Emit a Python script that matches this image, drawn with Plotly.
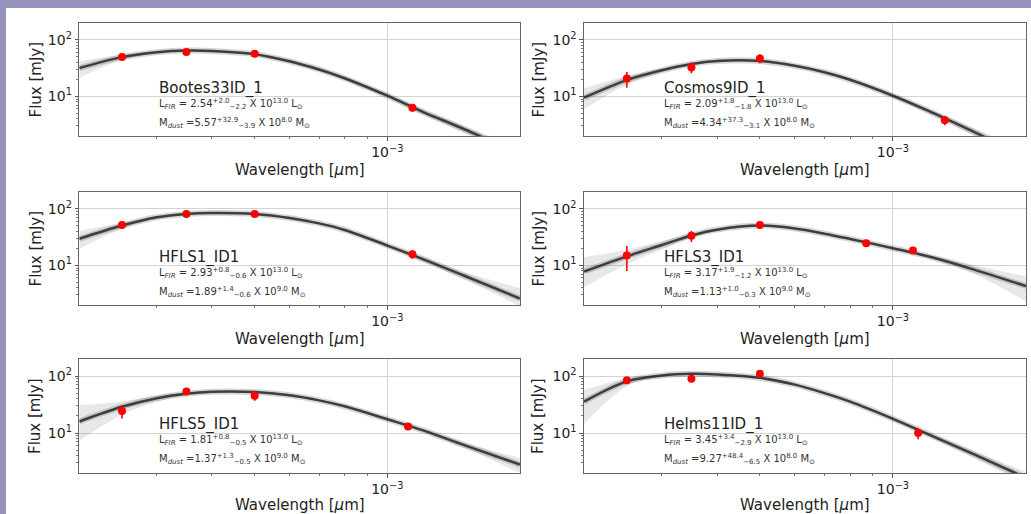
import math
import plotly.graph_objects as go

W, H = 1031, 514

# ---------------- data ----------------
lam_grid = [2.0e-4, 2.5e-4, 3.0e-4, 3.5e-4, 4.0e-4, 5.0e-4, 6.0e-4, 7.0e-4,
            8.0e-4, 1.0e-3, 1.2e-3, 1.5e-3, 2.0e-3]

names = ["Bootes33ID_1", "Cosmos9ID_1", "HFLS1_ID1", "HFLS3_ID1", "HFLS5_ID1", "Helms11ID_1"]

curve_center = [
    [31.8, 49.7, 60.8, 65.0, 64.0, 56.0, 42.0, 30.0, 21.0, 10.3, 5.4, 2.6, 0.95],
    [9.5, 19.5, 29.0, 37.5, 42.5, 42.5, 34.8, 26.8, 19.7, 10.3, 5.6, 2.5, 0.85],
    [29.6, 50.8, 71.3, 81.6, 85.0, 81.6, 69.4, 55.5, 42.5, 22.5, 13.1, 6.5, 2.6],
    [7.8, 14.5, 23.0, 34.0, 43.0, 50.8, 45.0, 36.5, 29.5, 20.2, 14.5, 8.8, 4.3],
    [16.0, 29.0, 41.0, 49.0, 53.0, 52.5, 46.0, 37.5, 29.5, 17.5, 11.3, 6.1, 2.8],
    [35.6, 81.0, 102.8, 110.0, 107.0, 93.3, 70.8, 50.2, 35.6, 17.8, 9.6, 4.5, 1.64],
]
curve_hi = [
    [41.6, 55.0, 64.0, 68.0, 67.0, 59.0, 44.5, 32.0, 22.5, 11.2, 6.0, 3.0, 1.2],
    [14.0, 23.0, 31.5, 39.5, 44.5, 44.5, 36.5, 28.2, 20.8, 11.0, 6.1, 2.9, 1.1],
    [41.5, 57.0, 75.0, 84.5, 88.0, 84.5, 72.0, 58.0, 44.5, 24.0, 14.5, 7.6, 4.0],
    [14.0, 19.0, 27.0, 37.0, 45.5, 53.0, 47.0, 38.0, 30.5, 21.0, 15.5, 10.5, 6.4],
    [31.0, 36.0, 46.0, 52.0, 55.5, 54.5, 48.0, 39.0, 30.5, 18.3, 12.0, 6.8, 3.7],
    [57.6, 92.0, 108.0, 114.0, 111.0, 97.0, 74.0, 52.5, 37.5, 19.0, 10.4, 5.1, 2.1],
]
curve_lo = [
    [21.3, 44.0, 57.0, 62.0, 61.0, 53.0, 39.5, 28.0, 19.5, 9.4, 4.8, 2.2, 0.75],
    [6.0, 16.0, 26.5, 35.5, 40.5, 40.5, 33.0, 25.4, 18.6, 9.6, 5.1, 2.15, 0.65],
    [19.7, 44.0, 67.0, 78.5, 82.0, 78.5, 66.5, 53.0, 40.5, 21.0, 11.8, 5.5, 1.9],
    [4.1, 10.5, 19.0, 31.0, 40.5, 48.5, 43.0, 35.0, 28.5, 19.4, 13.5, 7.5, 2.3],
    [7.3, 21.0, 35.0, 46.0, 50.5, 50.5, 44.0, 36.0, 28.5, 16.7, 10.6, 5.4, 2.0],
    [14.5, 66.0, 96.0, 105.0, 103.0, 89.5, 67.5, 48.0, 33.8, 16.6, 8.8, 3.9, 1.25],
]

obs_lam = [
    [2.5e-4, 3.5e-4, 5.0e-4, 1.14e-3],
    [2.5e-4, 3.5e-4, 5.0e-4, 1.31e-3],
    [2.5e-4, 3.5e-4, 5.0e-4, 1.14e-3],
    [2.5e-4, 3.5e-4, 5.0e-4, 8.7e-4, 1.11e-3],
    [2.5e-4, 3.5e-4, 5.0e-4, 1.114e-3],
    [2.5e-4, 3.5e-4, 5.0e-4, 1.14e-3],
]
obs_flux = [
    [50.0, 61.0, 57.0, 6.3],
    [20.7, 32.7, 47.1, 3.8],
    [52.0, 81.6, 81.6, 15.8],
    [15.0, 33.4, 52.2, 24.6, 18.3],
    [24.5, 53.8, 45.0, 13.0],
    [84.7, 89.6, 110.0, 10.0],
]
obs_err = [
    [4.0, 5.0, 7.0, 0.9],
    [6.5, 7.0, 8.5, 0.7],
    [6.0, 6.0, 9.0, 2.8],
    [7.0, 7.5, 8.0, 1.2, 1.0],
    [6.5, 5.5, 8.0, 0.8],
    [3.0, 3.0, 4.0, 2.2],
]

lfir = [("2.54", "+2.0", "−2.2"), ("2.09", "+1.8", "−1.8"), ("2.93", "+0.8", "−0.6"),
        ("3.17", "+1.9", "−1.2"), ("1.81", "+0.8", "−0.5"), ("3.45", "+3.4", "−2.9")]
lfir_exp = ["13.0"] * 6
mdust = [("5.57", "+32.9", "−3.9"), ("4.34", "+37.3", "−3.1"), ("1.89", "+1.4", "−0.6"),
         ("1.13", "+1.0", "−0.3"), ("1.37", "+1.3", "−0.5"), ("9.27", "+48.4", "−6.5")]
mdust_exp = ["8.0", "8.0", "9.0", "9.0", "9.0", "8.0"]

x_major = [1e-3]
x_major_text = ["10<sup>−3</sup>"]
y_major = [10, 100]
y_major_text = ["10<sup>1</sup>", "10<sup>2</sup>"]
x_minor = [3e-4, 4e-4, 5e-4, 6e-4, 7e-4, 8e-4, 9e-4]
y_minor = [3, 4, 5, 6, 7, 8, 9, 20, 30, 40, 50, 60, 70, 80, 90]

# ---------------- layout geometry (pixels) ----------------
col_px = [(79.3, 520.0), (584.0, 1026.0)]
row_px = [(23.0, 136.0), (192.0, 305.0), (359.0, 473.0)]
xlab_off = [34.0, 34.0, 32.0]
ylab_px = [35.0, 538.0]
txt_x_px = [157.0, 661.7]

FONT = "DejaVu Sans"
fig = go.Figure()

def px(x):
    return x / W

def py(y):
    return 1 - y / H

for i in range(6):
    r, c = i // 2, i % 2
    k = i + 1
    xa = "x" if k == 1 else f"x{k}"
    ya = "y" if k == 1 else f"y{k}"
    # envelope band of the model curves
    fig.add_trace(go.Scatter(x=lam_grid, y=curve_lo[i], mode="lines",
                             line=dict(width=0, shape="spline", color="rgba(0,0,0,0)"),
                             xaxis=xa, yaxis=ya, showlegend=False, hoverinfo="skip"))
    fig.add_trace(go.Scatter(x=lam_grid, y=curve_hi[i], mode="lines", fill="tonexty",
                             fillcolor="rgba(0,0,0,0.09)",
                             line=dict(width=0, shape="spline", color="rgba(0,0,0,0)"),
                             xaxis=xa, yaxis=ya, showlegend=False, hoverinfo="skip"))
    # soft halo + dark core
    fig.add_trace(go.Scatter(x=lam_grid, y=curve_center[i], mode="lines",
                             line=dict(width=6, shape="spline", color="rgba(0,0,0,0.16)"),
                             xaxis=xa, yaxis=ya, showlegend=False, hoverinfo="skip"))
    fig.add_trace(go.Scatter(x=lam_grid, y=curve_center[i], mode="lines",
                             line=dict(width=2.5, shape="spline", color="rgba(10,10,10,0.72)"),
                             xaxis=xa, yaxis=ya, showlegend=False, hoverinfo="skip"))
    # observations
    fig.add_trace(go.Scatter(x=obs_lam[i], y=obs_flux[i], mode="markers",
                             marker=dict(size=8, color="#ff0000"),
                             error_y=dict(type="data", array=obs_err[i], color="#ff0000",
                                          thickness=1.6, width=0),
                             xaxis=xa, yaxis=ya, showlegend=False))

    x0, x1 = col_px[c]
    y0, y1 = row_px[r]
    common = dict(showline=True, mirror=True, linecolor="#666", linewidth=1.2,
                  ticks="outside", ticklen=3.5, tickcolor="#555", tickwidth=1,
                  showgrid=True, gridcolor="#d3d3d3", gridwidth=1,
                  tickmode="array",
                  tickfont=dict(family=FONT, size=14, color="#222"), zeroline=False)
    fig.layout[f"xaxis{'' if k == 1 else k}"] = dict(
        type="log", range=[math.log10(2e-4), math.log10(2e-3)],
        domain=[px(x0), px(x1)], anchor=ya,
        tickvals=x_major, ticktext=x_major_text,
        minor=dict(tickvals=x_minor, ticks="outside", ticklen=2, tickcolor="#777", showgrid=False),
        **common)
    fig.layout[f"yaxis{'' if k == 1 else k}"] = dict(
        type="log", range=[0.3, 2.3],
        domain=[py(y1), py(y0)], anchor=xa,
        tickvals=y_major, ticktext=y_major_text,
        minor=dict(tickvals=y_minor, ticks="outside", ticklen=2, tickcolor="#777", showgrid=False),
        **common)

    # axis titles
    fig.add_annotation(x=px(ylab_px[c]), y=py((y0 + y1) / 2), xref="paper", yref="paper",
                       text="Flux [mJy]", textangle=-90, showarrow=False,
                       font=dict(family=FONT, size=15, color="#222"),
                       xanchor="center", yanchor="middle")
    fig.add_annotation(x=px((x0 + x1) / 2), y=py(y1 + xlab_off[r]), xref="paper", yref="paper",
                       text="Wavelength [<i>μ</i>m]", showarrow=False,
                       font=dict(family=FONT, size=15, color="#222"),
                       xanchor="center", yanchor="middle")
    # source name and fit results
    tx = px(txt_x_px[c])
    fig.add_annotation(x=tx, y=py(y0 + 65), xref="paper", yref="paper",
                       text=names[i], showarrow=False,
                       font=dict(family=FONT, size=15, color="#222"),
                       xanchor="left", yanchor="middle")
    v, up, dn = lfir[i]
    fig.add_annotation(x=tx, y=py(y0 + 81), xref="paper", yref="paper",
                       text=f"L<sub><i>FIR</i></sub> = {v}<sup>{up}</sup><sub>{dn}</sub> X 10<sup>{lfir_exp[i]}</sup> L<sub>⊙</sub>",
                       showarrow=False, font=dict(family=FONT, size=10, color="#333"),
                       xanchor="left", yanchor="middle")
    v, up, dn = mdust[i]
    fig.add_annotation(x=tx, y=py(y0 + 100), xref="paper", yref="paper",
                       text=f"M<sub><i>dust</i></sub> ={v}<sup>{up}</sup><sub>{dn}</sub> X 10<sup>{mdust_exp[i]}</sup> M<sub>⊙</sub>",
                       showarrow=False, font=dict(family=FONT, size=10, color="#333"),
                       xanchor="left", yanchor="middle")

# white figure area inside the lavender frame
fig.add_shape(type="rect", xref="paper", yref="paper",
              x0=6 / W, x1=1.0, y0=0.0, y1=1 - 8 / H,
              fillcolor="white", line=dict(width=0), layer="below")

fig.update_layout(width=W, height=H, margin=dict(l=0, r=0, t=0, b=0),
                  paper_bgcolor="#9593bd", plot_bgcolor="white",
                  font=dict(family=FONT), showlegend=False)

fig.write_html("out.html")
